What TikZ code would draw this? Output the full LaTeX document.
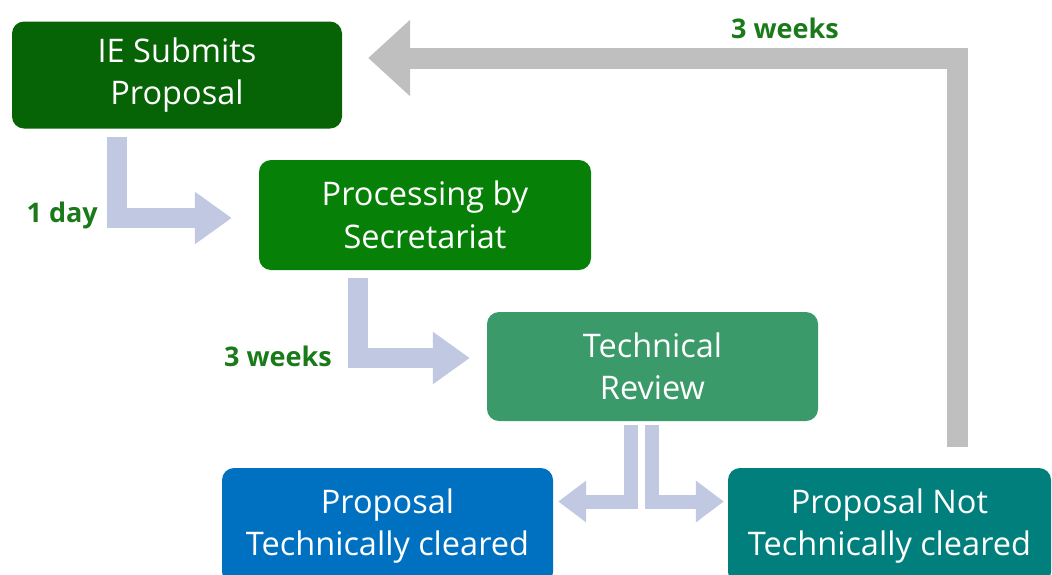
\documentclass[tikz,border=0pt]{standalone}
\usepackage{fontspec}
\setmainfont{Open Sans}
\usetikzlibrary{arrows.meta,calc}
\definecolor{cIE}{HTML}{066406}
\definecolor{cProc}{HTML}{078007}
\definecolor{cTR}{HTML}{3A9A6A}
\definecolor{cClr}{HTML}{0070C0}
\definecolor{cNot}{HTML}{017F7D}
\definecolor{cFlow}{HTML}{C0C8E2}
\definecolor{cBack}{HTML}{BFBFBF}
\definecolor{cLbl}{HTML}{1A7A1A}
\tikzset{
  box/.style={rounded corners=12pt, text=white, align=center, inner sep=0pt,
     font=\fontsize{32.5}{42.5}\selectfont},
  flow/.style={draw=cFlow, line width=20pt, line join=miter,
     -{Triangle[length=37pt,width=50pt]}},
  split/.style={draw=cFlow, line width=14pt, line join=miter,
     -{Triangle[length=28pt,width=40pt]}},
  back/.style={draw=cBack, line width=21pt, line join=miter,
     -{Triangle[length=42pt,width=74pt]}},
  lbl/.style={text=cLbl, font=\bfseries\fontsize{27}{30}\selectfont, inner sep=0pt}
}
\begin{document}
\begin{tikzpicture}[x=1pt,y=-1pt]
\useasboundingbox (0,0) rectangle (1052,574);
\clip (0,0) rectangle (1052,574);
\node[box, fill=cIE, minimum width=330pt, minimum height=107pt] (ie) at (177,75) {IE Submits\\Proposal};
\node[box, fill=cProc, minimum width=332pt, minimum height=110pt] (proc) at (425,215) {Processing by\\Secretariat};
\node[box, fill=cTR, minimum width=331pt, minimum height=109pt] (tr) at (652.5,366.5) {Technical\\Review};
\node[box, fill=cClr, minimum width=331pt, minimum height=116pt] (clr) at (387.5,526) {Proposal\\Technically cleared};
\node[box, fill=cNot, minimum width=323pt, minimum height=116pt] (not) at (889.5,526) {Proposal Not\\Technically cleared};

\coordinate (a1s) at ([xshift=-60pt,yshift=-8.5pt]ie.south);
\coordinate (a1e) at ([xshift=-27pt,yshift=-3pt]proc.west);
\draw[flow] (a1s) |- (a1e);

\coordinate (a2s) at ([xshift=-67.5pt,yshift=-8pt]proc.south);
\coordinate (a2e) at ([xshift=-17pt,yshift=8.5pt]tr.west);
\draw[flow] (a2s) |- (a2e);

\coordinate (a3s) at ([xshift=-22pt,yshift=-4pt]tr.south);
\coordinate (a3e) at ([xshift=5pt,yshift=24.5pt]clr.east);
\draw[split] (a3s) |- (a3e);
\coordinate (a4s) at ([xshift=-0.5pt,yshift=-4pt]tr.south);
\coordinate (a4e) at ([xshift=-4pt,yshift=24.5pt]not.west);
\draw[split] (a4s) |- (a4e);

\coordinate (bs) at ([xshift=67.5pt,yshift=21pt]not.north);
\coordinate (be) at ([xshift=26pt,yshift=17pt]ie.east);
\draw[back] (bs) |- (be);

\node[lbl, anchor=east] (l1) at (98,215) {1 day};
\node[lbl, anchor=east] (l2) at (332,356) {3 weeks};
\node[lbl, anchor=west] (l3) at (731,28) {3 weeks};
\end{tikzpicture}
\end{document}
